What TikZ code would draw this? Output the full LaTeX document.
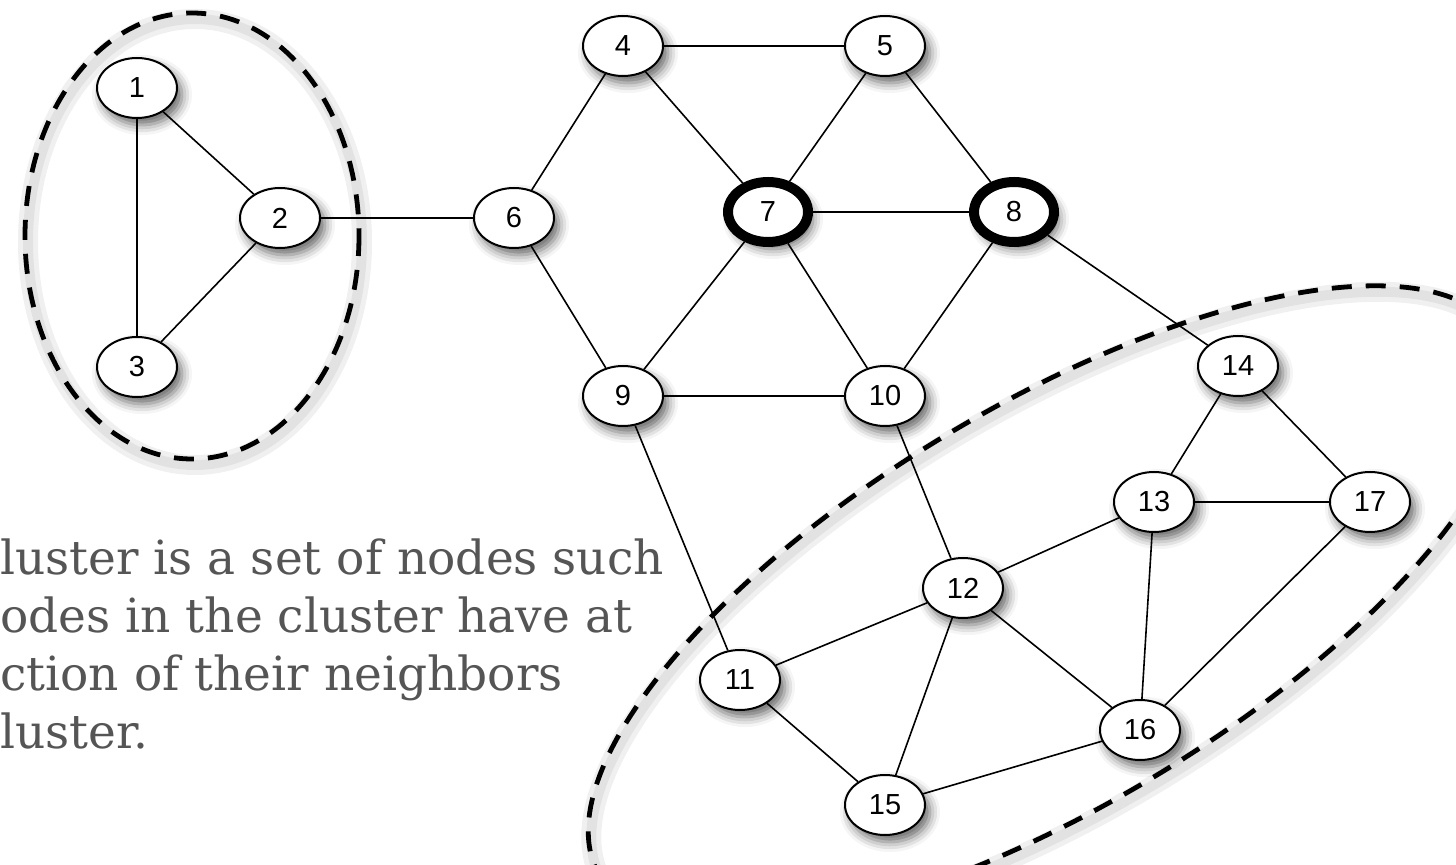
\documentclass[tikz,border=0pt]{standalone}
\usepackage{fontspec}
\setmainfont{DejaVu Serif}
\newfontfamily\labelfont{Liberation Sans}
\usetikzlibrary{shapes.geometric}
\usetikzlibrary{shadows.blur}

\definecolor{textgray}{HTML}{555555}

\tikzset{
  vertex/.style={draw,ellipse,fill=white,line width=1pt,
    minimum width=40pt,minimum height=30pt,inner sep=0pt,
    font=\labelfont\fontsize{14.5}{14.5}\selectfont,
    blur shadow={shadow xshift=2.5pt,shadow yshift=-3.5pt,
      shadow blur radius=5pt,shadow opacity=60}},
  hub/.style={vertex,line width=5pt},
  link/.style={line width=0.8pt},
  cluster/.style={line width=2.4pt,dash pattern=on 10pt off 7pt},
  halo/.style={black,line width=#1,opacity=0.06,xshift=1.5pt,yshift=-3pt}
}

\begin{document}
\begin{tikzpicture}[x=0.5pt,y=-0.5pt]

  \useasboundingbox (0,0) rectangle (1456,865);
  \clip (0,0) rectangle (1456,865);

  % the two clusters
  \draw [halo=10pt] (192,236) ellipse [x radius=167,y radius=223];
  \draw [halo=5pt] (192,236) ellipse [x radius=167,y radius=223];
  \draw [cluster] (192,236) ellipse [x radius=167,y radius=223];

  \draw [halo=10pt,rotate around={31:(1050,606)}] (1050,606) ellipse [x radius=525,y radius=200];
  \draw [halo=5pt,rotate around={31:(1050,606)}] (1050,606) ellipse [x radius=525,y radius=200];
  \draw [cluster,rotate around={31:(1050,606)}] (1050,606) ellipse [x radius=525,y radius=200];

  \node [vertex] (n1) at (137,88) {1};
  \node [vertex] (n2) at (280,218) {2};
  \node [vertex] (n3) at (137,367) {3};
  \node [vertex] (n4) at (623,46) {4};
  \node [vertex] (n5) at (885,46) {5};
  \node [vertex] (n6) at (514,218) {6};
  \node [hub] (n7) at (768,212) {7};
  \node [hub] (n8) at (1014,212) {8};
  \node [vertex] (n9) at (623,396) {9};
  \node [vertex] (n10) at (885,396) {10};
  \node [vertex] (n11) at (740,680) {11};
  \node [vertex] (n12) at (963,588) {12};
  \node [vertex] (n13) at (1154,502) {13};
  \node [vertex] (n14) at (1238,366) {14};
  \node [vertex] (n15) at (885,805) {15};
  \node [vertex] (n16) at (1140,730) {16};
  \node [vertex] (n17) at (1370,502) {17};

  \path [draw,link]
    (n1) edge (n2)
    (n1) edge (n3)
    (n2) edge (n3)
    (n2) edge (n6)
    (n6) edge (n4)
    (n6) edge (n9)
    (n4) edge (n5)
    (n4) edge (n7)
    (n5) edge (n7)
    (n5) edge (n8)
    (n7) edge (n8)
    (n7) edge (n9)
    (n7) edge (n10)
    (n8) edge (n10)
    (n8) edge (n14)
    (n9) edge (n10)
    (n9) edge (n11)
    (n10) edge (n12);

  \path [draw,link]
    (n14) edge (n13)
    (n14) edge (n17)
    (n13) edge (n17)
    (n13) edge (n12)
    (n13) edge (n16)
    (n17) edge (n16)
    (n12) edge (n11)
    (n12) edge (n15)
    (n12) edge (n16)
    (n11) edge (n15)
    (n15) edge (n16);

  \node [anchor=north west,align=left,inner sep=0pt,text=textgray,
    font=\fontsize{23.5}{29}\selectfont] (desc) at (0,538)
    {luster is a set of nodes such\\odes in the cluster have at\\ction of their neighbors\\luster.};

\end{tikzpicture}
\end{document}
